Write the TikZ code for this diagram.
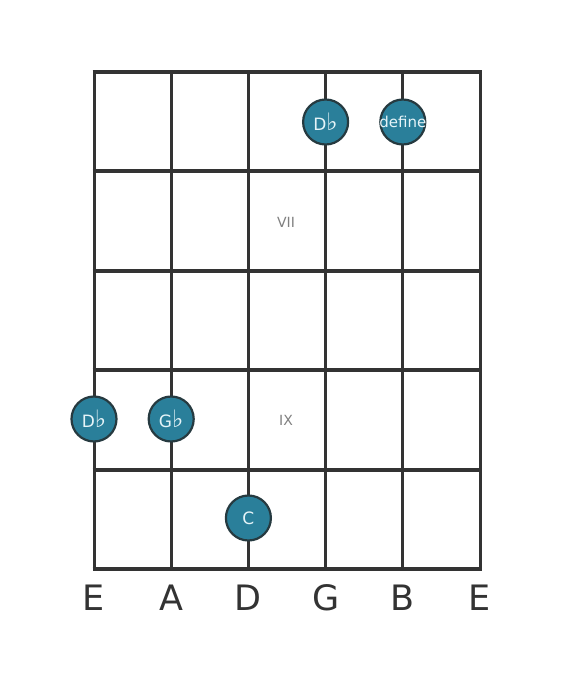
\documentclass[tikz,border=0pt]{standalone}
\usepackage{fontspec}
\setmainfont{DejaVu Sans}
\definecolor{fretgray}{HTML}{333333}
\definecolor{dotfill}{HTML}{2A7F9A}
\definecolor{dotedge}{HTML}{263A40}
\definecolor{dottext}{HTML}{E6F4F8}
\tikzset{
  note/.style={circle, draw=dotedge, line width=2.2pt, fill=dotfill, minimum size=45pt,
    inner sep=-10pt, text=dottext, font=\fontsize{17}{17}\selectfont},
  fretnum/.style={text=gray, font=\fontsize{14}{14}\selectfont},
  stringname/.style={text=fretgray, font=\fontsize{35}{35}\selectfont}
}
\newcommand{\flt}{{\fontsize{24}{24}\selectfont ♭}}
\begin{document}
\begin{tikzpicture}[x=1pt, y=-1pt]
\useasboundingbox (0,0) rectangle (560,682);
% strings
\foreach \x in {94,171.2,248.4,325.6,402.8,480}{
  \draw [fretgray, line width=3pt] (\x,72) -- (\x,569);
}
% frets
\foreach \y in {72,171.4,270.8,370.2,469.6,569}{
  \draw [fretgray, line width=4pt] (92.5,\y) -- (481.5,\y);
}
% fret numbers
\node [fretnum] (vii) at (286,222) {VII};
\node [fretnum] (ix) at (286,420) {IX};
% notes
\node [note] (n1) at (325.6,122) {D\flt};
\node [note, font=\fontsize{15}{15}\selectfont] (n2) at (402.8,122) {define};
\node [note] (n3) at (94,419) {D\flt};
\node [note] (n4) at (171.2,419) {G\flt};
\node [note] (n5) at (248.4,518) {C};
% string names
\foreach \x/\s [count=\i] in {94/E,171.2/A,248.4/D,325.6/G,402.8/B,480/E}{
  \node [stringname] (s\i) at (\x,598) {\s};
}
\end{tikzpicture}
\end{document}
